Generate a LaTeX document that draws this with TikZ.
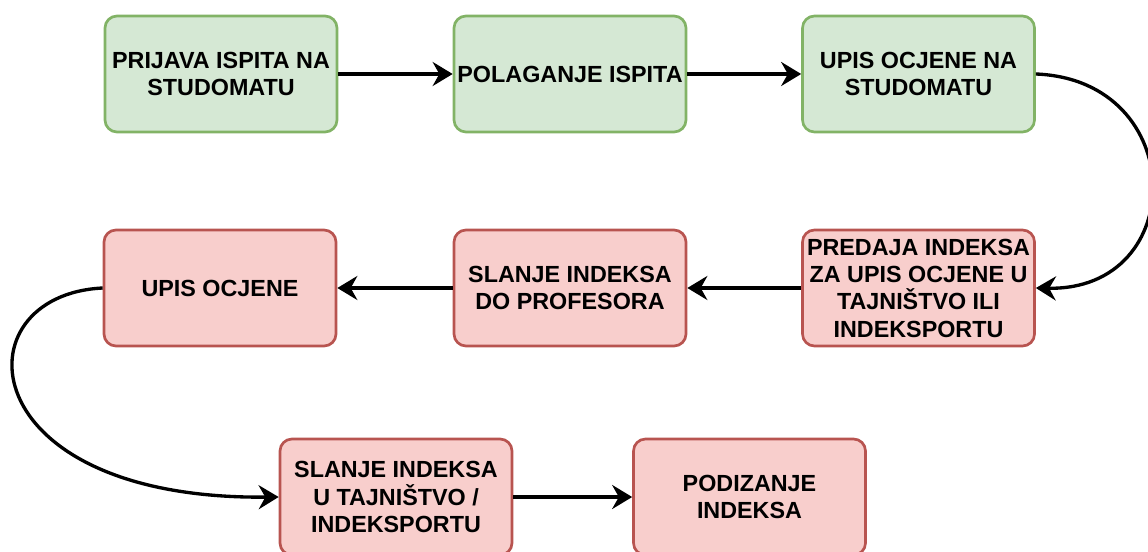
\documentclass[tikz,border=0pt]{standalone}
\usepackage{fontspec}
\setmainfont{Liberation Sans}
\usetikzlibrary{arrows.meta}
\tikzset{
every picture/.style={
line width=2pt
}}

\begin{document}
\begin{tikzpicture}[x=0.75pt, y=-0.75pt,
>={Stealth[length=15pt, width=18pt, inset=5pt]},
block/.style = {rectangle, rounded corners=9pt, align=center, inner sep=1pt,
  minimum width=174pt, minimum height=87pt,
  font=\bfseries\fontsize{17.5}{20.5}\selectfont},
gblock/.style = {block, draw={rgb,255:red,130;green,179;blue,102}, fill={rgb,255:red,213;green,232;blue,212}},
rblock/.style = {block, draw={rgb,255:red,184;green,84;blue,80}, fill={rgb,255:red,248;green,206;blue,204}},
link/.style = {->, line width=2.5pt}]
\useasboundingbox (0,0) rectangle (1148,552);

\node[gblock] at (221,74) (pr) {PRIJAVA ISPITA NA\\STUDOMATU};
\node[gblock] at (570,74) (pol) {POLAGANJE ISPITA};
\node[gblock] at (918.5,74) (us) {UPIS OCJENE NA\\STUDOMATU};
\node[rblock] at (918.5,288) (pred) {PREDAJA INDEKSA\\ZA UPIS OCJENE U\\TAJNIŠTVO ILI\\INDEKSPORTU};
\node[rblock] at (570,288) (sl) {SLANJE INDEKSA\\DO PROFESORA};
\node[rblock] at (220,288) (uo) {UPIS OCJENE};
\node[rblock] at (396,497) (slt) {SLANJE INDEKSA\\U TAJNIŠTVO /\\INDEKSPORTU};
\node[rblock] at (749.5,497) (pod) {PODIZANJE\\INDEKSA};

\draw[link] (pr) -- (pol);
\draw[link] (pol) -- (us);
\draw[link] (us.east) .. controls +(154,6) and +(154,3) .. (pred.east);
\draw[link] (pred) -- (sl);
\draw[link] (sl) -- (uo);
\draw[link] (uo.west) .. controls +(-145,7) and +(-310,3) .. (slt.west);
\draw[link] (slt) -- (pod);
\end{tikzpicture}
\end{document}
